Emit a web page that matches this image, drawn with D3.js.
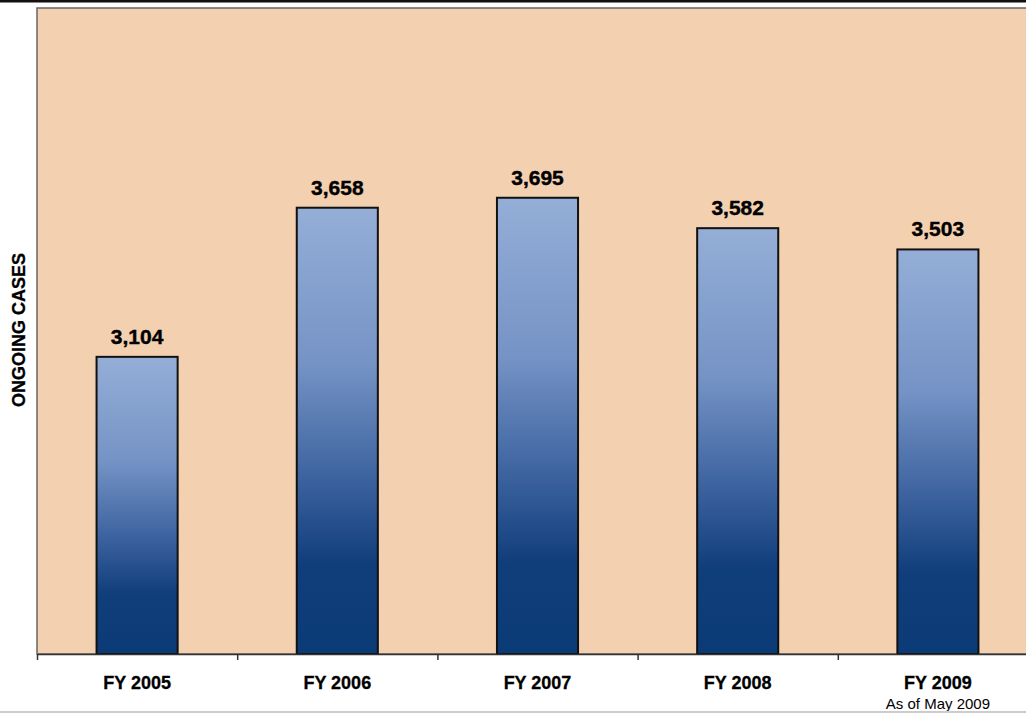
<!DOCTYPE html>
<html><head><meta charset="utf-8">
<script src="https://cdn.jsdelivr.net/npm/d3@7"></script>
<style>
html,body{margin:0;padding:0;background:#fff;overflow:hidden}
text{font-family:"Liberation Sans",Arial,sans-serif}
</style></head>
<body><svg id="c" width="1026" height="713"></svg>
<script>
const categories = ["FY 2005","FY 2006","FY 2007","FY 2008","FY 2009"];
const subLabels = ["","","","","As of May 2009"];
const values = [3104,3658,3695,3582,3503];
const yDomain = [2000,4400];
const yTitle = "ONGOING CASES";

(function(){
const svg = d3.select("#c");
const pLeft = 37, pRight = 1038, pTop = 8, pBottom = 654;

const defs = svg.append("defs");
const grad = defs.append("linearGradient").attr("id","bg").attr("x1",0).attr("y1",0).attr("x2",0).attr("y2",1);
[[0,"#94aed7"],[0.35,"#7593c5"],[0.6,"#3e64a0"],[0.8,"#103e7b"],[1,"#0b3b76"]].forEach(s=>
  grad.append("stop").attr("offset",s[0]).attr("stop-color",s[1]));

svg.append("rect").attr("x",0).attr("y",0).attr("width",1026).attr("height",2.5).attr("fill","#111");

svg.append("rect").attr("x",pLeft).attr("y",pTop).attr("width",pRight-pLeft).attr("height",pBottom-pTop)
  .attr("fill","#f3d0b0").attr("stroke","#666").attr("stroke-width",1.5);

const x = d3.scaleBand().domain(categories).range([pLeft,pRight]).paddingInner(0.595).paddingOuter(0.2975);
const y = d3.scaleLinear().domain(yDomain).range([pBottom,pTop]);

svg.selectAll("rect.bar").data(values).join("rect").attr("class","bar")
  .attr("x",(d,i)=>x(categories[i])).attr("width",x.bandwidth())
  .attr("y",d=>y(d)).attr("height",d=>y(yDomain[0])-y(d))
  .attr("fill","url(#bg)").attr("stroke","#111").attr("stroke-width",2);

svg.selectAll("text.val").data(values).join("text").attr("class","val")
  .attr("x",(d,i)=>x(categories[i])+x.bandwidth()/2).attr("y",d=>y(d)-13)
  .attr("text-anchor","middle").attr("font-weight","bold").attr("font-size",21).attr("fill","#000")
  .attr("stroke","#000").attr("stroke-width",0.4)
  .text(d=>d3.format(",")(d));

const xb = d3.scaleLinear().domain([0,categories.length]).range([pLeft,pRight]);
svg.append("g").attr("transform",`translate(0,${pBottom})`)
  .call(d3.axisBottom(xb).tickValues(d3.range(categories.length+1)).tickFormat("").tickSizeInner(6).tickSizeOuter(0))
  .call(g=>g.selectAll("path,line").attr("stroke","#333").attr("stroke-width",1.5));

svg.selectAll("text.cat").data(categories).join("text").attr("class","cat")
  .attr("x",d=>x(d)+x.bandwidth()/2).attr("y",689)
  .attr("text-anchor","middle").attr("font-weight","bold").attr("font-size",18).attr("fill","#000")
  .attr("stroke","#000").attr("stroke-width",0.3)
  .text(d=>d);
svg.selectAll("text.sub").data(subLabels).join("text").attr("class","sub")
  .attr("x",(d,i)=>x(categories[i])+x.bandwidth()/2).attr("y",709)
  .attr("text-anchor","middle").attr("font-size",15).attr("fill","#000")
  .text(d=>d);

svg.append("text").attr("transform","translate(25,330) rotate(-90)")
  .attr("text-anchor","middle").attr("font-weight","bold").attr("font-size",18).attr("fill","#000")
  .attr("stroke","#000").attr("stroke-width",0.3)
  .text(yTitle);

svg.append("rect").attr("x",0).attr("y",711).attr("width",1026).attr("height",2).attr("fill","#ccc");
})();
</script></body></html>
